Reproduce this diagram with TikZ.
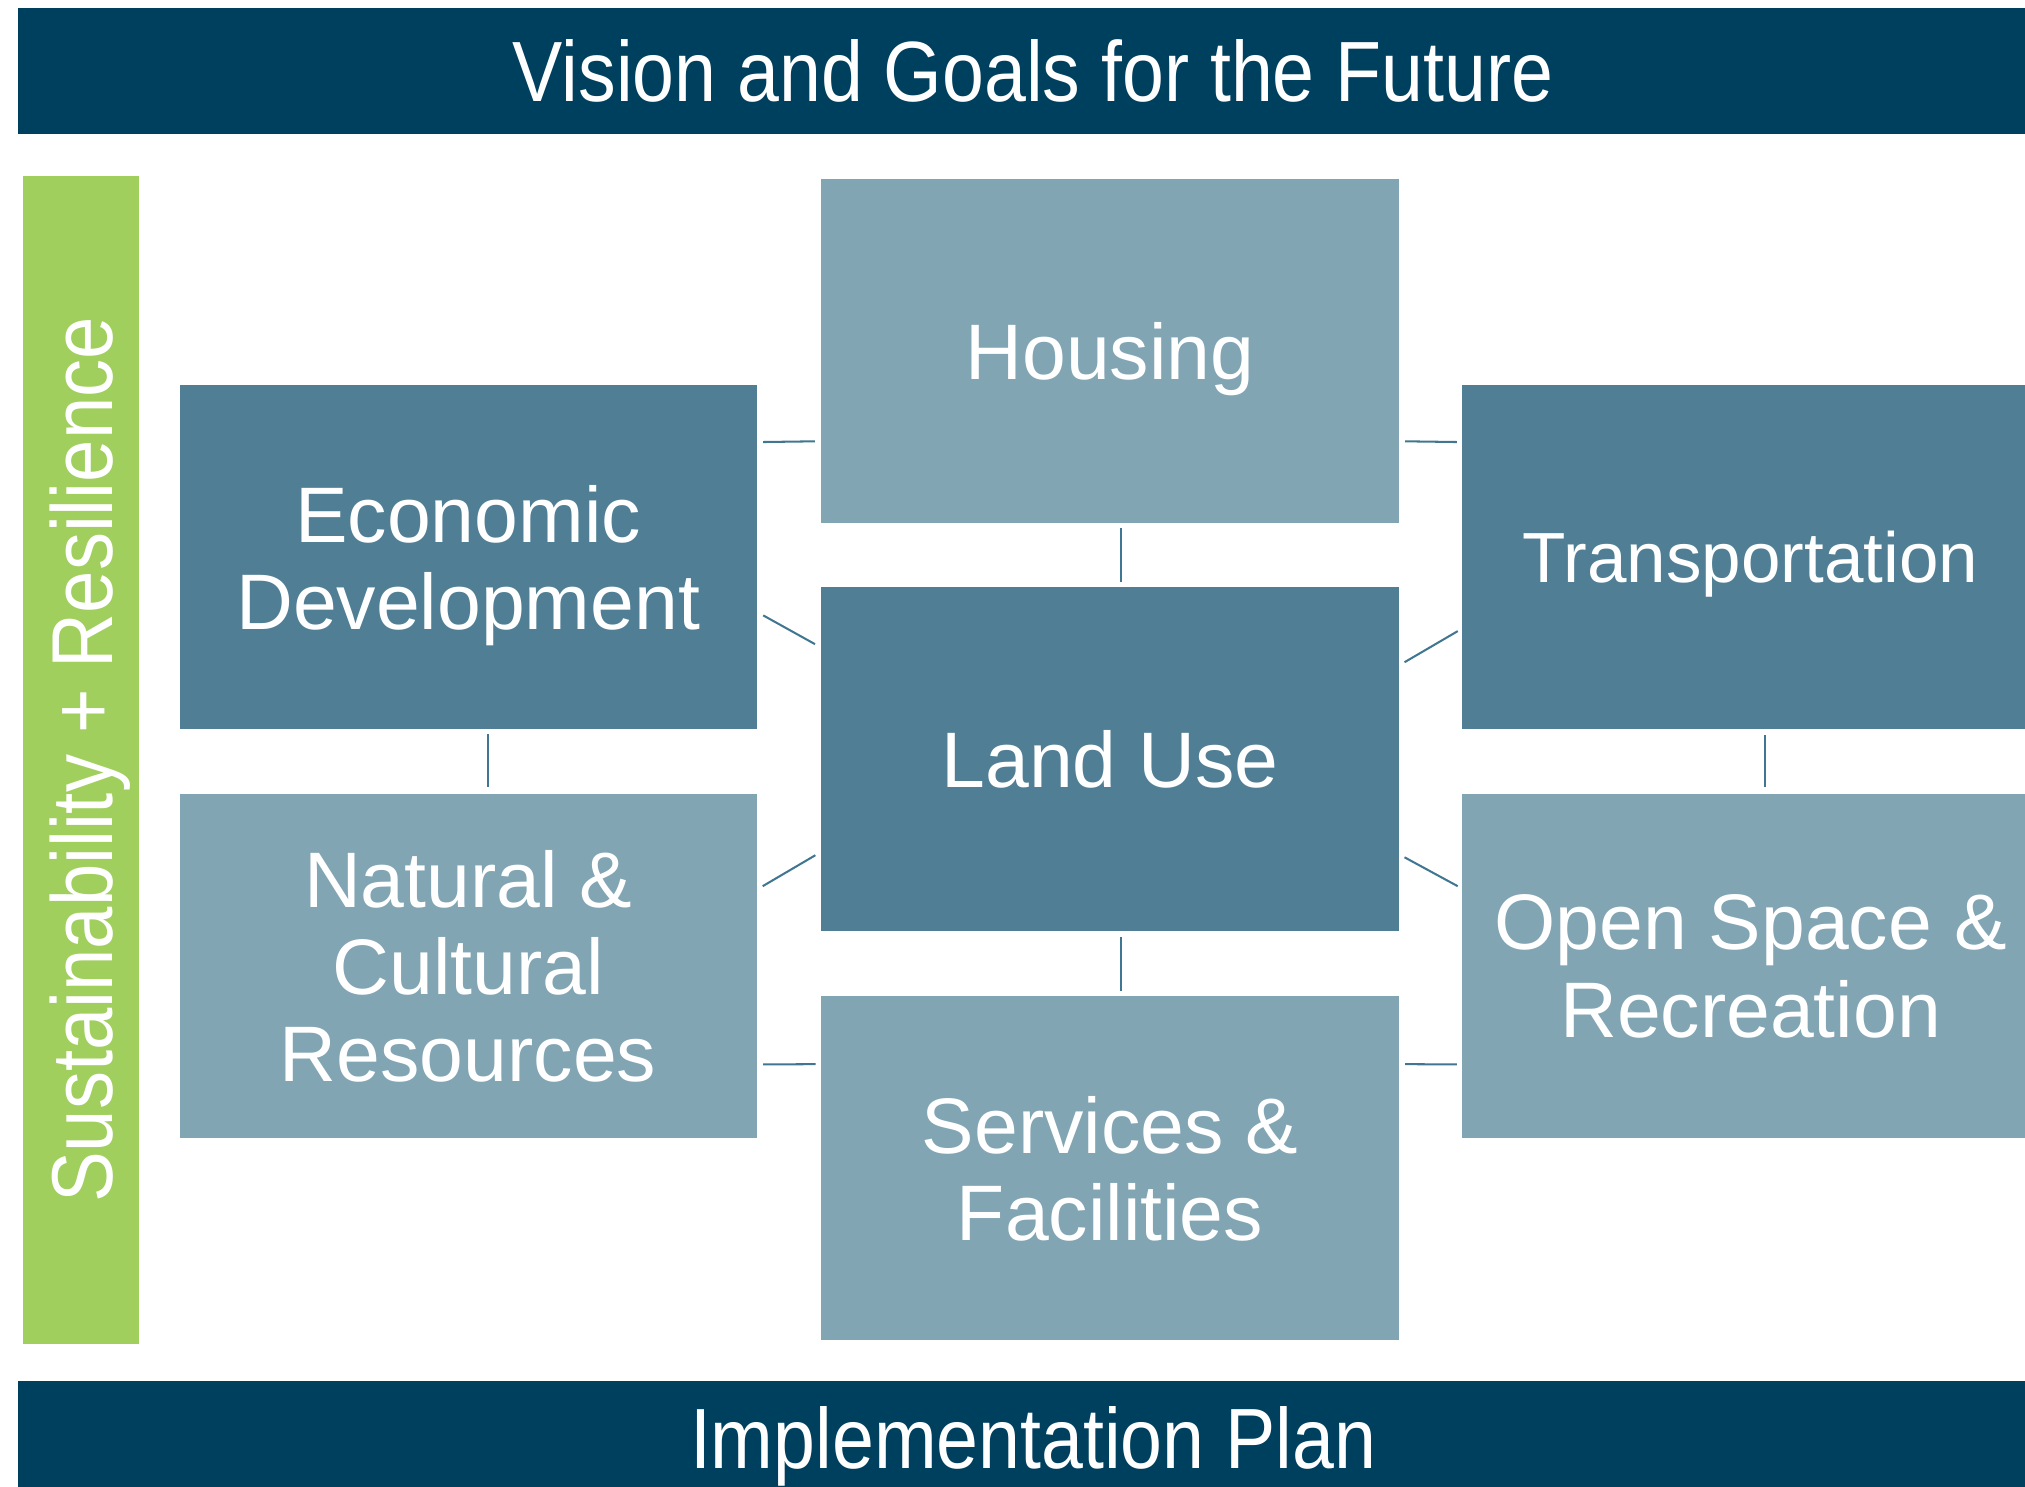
\documentclass[tikz,border=0pt]{standalone}
\usepackage{fontspec}
\setmainfont{Liberation Sans}
\newfontfamily\narrowfont[FakeStretch=0.88]{Liberation Sans}
\definecolor{navy}{RGB}{0,64,95}
\definecolor{steel}{RGB}{80,127,149}
\definecolor{mist}{RGB}{130,165,180}
\definecolor{leaf}{RGB}{160,207,94}
\definecolor{wire}{RGB}{64,118,145}
\tikzset{
  topic/.style={inner sep=0pt, outer sep=0pt, minimum width=8.94cm, minimum height=5.33cm,
    text=white, align=center, text depth=0pt, font=\fontsize{34.7}{38.4}\selectfont},
  darkbox/.style={topic, fill=steel},
  lightbox/.style={topic, fill=mist},
  banner/.style={fill=navy, text=white, inner sep=0pt, outer sep=0pt, minimum width=31.44cm,
    minimum height=1.95cm, text depth=0pt, font=\narrowfont\fontsize{37.7}{40}\selectfont},
  link/.style={draw=wire, line width=.9pt}
}
\begin{document}
\begin{tikzpicture}[x=0.02cm, y=-0.02cm]
\useasboundingbox (0,0) rectangle (1568,1151);
\clip (0,0) rectangle (1568,1151);
\node[banner] at (800,54.75) (vision) {Vision and Goals for the Future};
\node[banner, minimum height=1.76cm] at (800,1113) (plan) {Implementation Plan};
\node[fill=leaf, text=white, rotate=90, inner sep=0pt, minimum width=18.1cm, minimum height=1.8cm,
  text depth=0pt, font=\narrowfont\fontsize{38.1}{40}\selectfont] at (63,588.5) (resilience)
  {Sustainability + Resilience};
\node[lightbox] at (859.5,272) (housing) {Housing};
\node[darkbox] at (362.5,431.5) (econ) {Economic\\Development};
\node[darkbox] at (859.5,588) (landuse) {Land Use};
\node[darkbox, font=\fontsize{31.3}{38.4}\selectfont] at (1355.5,431.5) (transport) {Transportation};
\node[lightbox] at (362.5,748) (natural) {Natural \&\\Cultural\\Resources};
\node[lightbox] at (1355.5,748) (openspace) {Open Space \&\\Recreation};
\node[lightbox] at (859.5,904.5) (services) {Services \&\\Facilities};
%links round the ring
\draw[link] ([shift={(5,44)}]econ.north east) -- ([shift={(-5,-63.5)}]housing.south west);
\draw[link] ([shift={(5,-63.5)}]housing.south east) -- ([shift={(-4,44)}]transport.north west);
\draw[link] ([shift={(5,45)}]econ.east) -- ([shift={(-5,44)}]landuse.north west);
\draw[link] ([shift={(4.6,58)}]landuse.north east) -- ([shift={(-3.3,57.2)}]transport.west);
\draw[link] ([shift={(4.6,-61.8)}]natural.east) -- ([shift={(-4.7,-59)}]landuse.south west);
\draw[link] ([shift={(4.6,-57.4)}]landuse.south east) -- ([shift={(-3.3,-61.8)}]openspace.west);
\draw[link] ([shift={(5,-57)}]natural.south east) -- ([shift={(-4.5,-80.5)}]services.west);
\draw[link] ([shift={(5,-80.5)}]services.east) -- ([shift={(-4,-57)}]openspace.south west);
%vertical links
\draw[link] ([shift={(8.5,4)}]housing.south) -- ([shift={(8.5,-4)}]landuse.north);
\draw[link] ([shift={(8.5,4.5)}]landuse.south) -- ([shift={(8.5,-4)}]services.north);
\draw[link] ([shift={(15,4)}]econ.south) -- ([shift={(15,-5)}]natural.north);
\draw[link] ([shift={(11,4.5)}]transport.south) -- ([shift={(11,-5)}]openspace.north);
\end{tikzpicture}
\end{document}
